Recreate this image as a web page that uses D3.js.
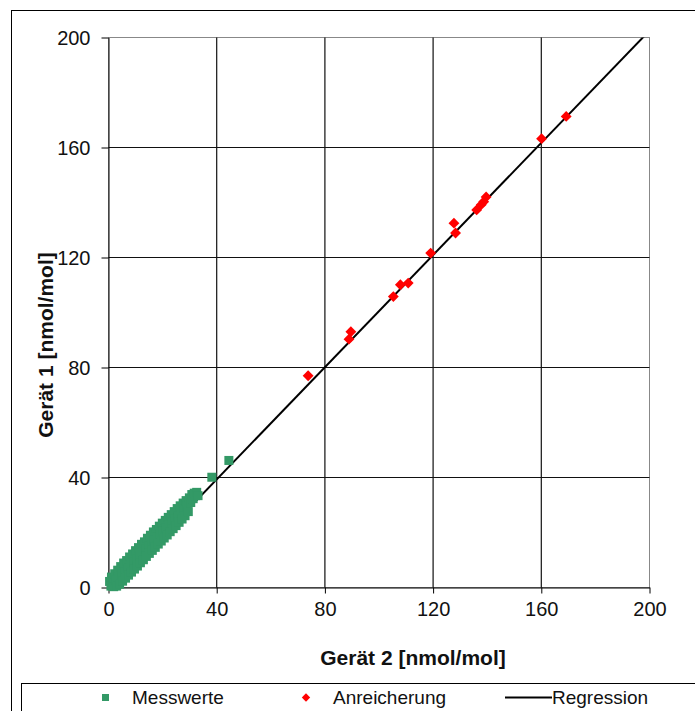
<!DOCTYPE html>
<html>
<head>
<meta charset="utf-8">
<script src="https://cdn.jsdelivr.net/npm/d3@7"></script>
<style>
  body { margin: 0; background: #fff; }
  svg { display: block; font-family: "Liberation Sans", Arial, sans-serif; }
</style>
</head>
<body>
<svg width="695" height="711"></svg>
<script>
// Messwerte: Gerät 2 (x) vs Gerät 1 (y), nmol/mol
var messwerte = [
  [0.4,2.2],[0.9,0.5],[1.1,3.8],[1.6,1.9],[1.9,0.3],[2.3,5.0],[2.7,2.6],[3.0,0.5],
  [3.4,6.3],[3.8,3.7],[4.1,1.2],[4.5,7.6],[4.9,4.9],[5.2,2.3],[5.6,8.9],[6.0,5.8],
  [6.3,3.4],[6.7,9.8],[7.1,7.0],[7.4,4.5],[7.8,11.1],[8.2,8.1],[8.5,5.6],[8.9,12.2],
  [9.3,9.3],[9.6,6.7],[10.0,13.4],[10.4,10.5],[10.7,7.8],[11.1,14.5],[11.5,11.6],[11.8,9.0],
  [12.2,15.7],[12.6,12.8],[12.9,10.1],[13.3,16.6],[13.7,13.9],[14.0,11.3],[14.4,17.9],[14.8,15.0],
  [15.1,12.4],[15.5,19.0],[15.9,16.1],[16.2,13.5],[16.6,20.2],[17.0,17.2],[17.3,14.6],[17.7,21.1],
  [18.1,18.4],[18.4,15.8],[18.8,22.3],[19.2,19.5],[19.5,16.9],[19.9,23.4],[20.3,20.6],[20.6,18.0],
  [21.0,24.4],[21.4,21.7],[21.7,19.1],[22.1,25.5],[22.5,22.8],[22.8,20.3],[23.2,26.5],[23.6,23.9],
  [23.9,21.4],[24.3,27.6],[24.7,25.0],[25.0,22.5],[25.4,28.7],[25.8,26.1],[26.1,23.7],[26.5,29.7],
  [26.9,27.2],[27.2,24.9],[27.6,30.7],[28.0,28.4],[28.3,26.1],[28.7,31.6],[29.1,29.6],[29.5,27.6],
  [29.9,32.6],[30.4,30.9],[30.8,33.8],[31.3,32.3],[31.7,34.3],[32.2,33.4],[32.6,34.6],[33.1,33.4],
  [38.2,40.1],[44.5,46.2]
];

// Anreicherung
var anreicherung = [
  [73.8,77.0],[88.9,90.3],[89.6,93.0],[105.3,105.8],[107.9,110.1],[110.8,110.7],
  [119.1,121.6],[127.7,132.5],[128.3,128.9],[136.1,137.3],[137.8,139.2],[138.7,140.3],
  [139.6,142.0],[160.1,163.2],[169.2,171.3]
];

// Regression line y = slope * x + intercept
var regSlope = 1.02, regIntercept = -1.5;
var regX = [0, 200];

var xTicks = [0, 40, 80, 120, 160, 200];
var yTicks = [0, 40, 80, 120, 160, 200];

var svg = d3.select("svg");

// outer chart frame and legend box (run off the picture edge)
svg.append("rect").attr("x", 11.5).attr("y", 10.5).attr("width", 700).attr("height", 720)
   .attr("fill", "none").attr("stroke", "#000");
svg.append("rect").attr("x", 21.5).attr("y", 683.5).attr("width", 700).attr("height", 60)
   .attr("fill", "#fff").attr("stroke", "#000");

var x = d3.scaleLinear().domain([0, 200]).range([108.5, 649.5]);
var y = d3.scaleLinear().domain([0, 200]).range([587.5, 37.5]);

// plot area border (grey top/right)
svg.append("rect")
   .attr("x", x(0)).attr("y", y(200))
   .attr("width", x(200) - x(0)).attr("height", y(0) - y(200))
   .attr("fill", "none").attr("stroke", "#888");

// gridlines
var grid = svg.append("g");
grid.selectAll(".vg").data(xTicks.slice(1, -1)).enter().append("line")
    .attr("x1", d => x(d)).attr("x2", d => x(d))
    .attr("y1", y(0)).attr("y2", y(200))
    .attr("stroke", "#111").attr("stroke-width", 1.2);
grid.selectAll(".hg").data(yTicks.slice(1, -1)).enter().append("line")
    .attr("x1", x(0)).attr("x2", x(200))
    .attr("y1", d => y(d)).attr("y2", d => y(d))
    .attr("stroke", "#111").attr("stroke-width", 1.2);

// axes
var xAxis = svg.append("g")
   .attr("transform", "translate(0," + y(0) + ")")
   .call(d3.axisBottom(x).tickValues(xTicks).tickSize(6).tickPadding(8).tickSizeOuter(0));
var yAxis = svg.append("g")
   .attr("transform", "translate(" + x(0) + ",0)")
   .call(d3.axisLeft(y).tickValues(yTicks).tickSize(7).tickPadding(11).tickSizeOuter(0));

[xAxis, yAxis].forEach(function(a) {
  a.select(".domain").attr("stroke", "#000");
  a.selectAll(".tick line").attr("stroke", "#000");
  a.selectAll(".tick text").attr("fill", "#111")
   .style("font-size", "20px").style("font-family", "'Liberation Sans', Arial, sans-serif");
});
yAxis.selectAll(".tick text").attr("dy", "0.36em");

// clip for regression line
svg.append("clipPath").attr("id", "plotclip").append("rect")
   .attr("x", x(0)).attr("y", y(200))
   .attr("width", x(200) - x(0)).attr("height", y(0) - y(200));

var line = d3.line()
   .x(function(d) { return x(d); })
   .y(function(d) { return y(regSlope * d + regIntercept); });

svg.append("path")
   .datum(regX)
   .attr("clip-path", "url(#plotclip)")
   .attr("d", line)
   .attr("fill", "none").attr("stroke", "#000").attr("stroke-width", 2);

// Messwerte: green squares
var sq = 9;
svg.append("g").selectAll("rect").data(messwerte).enter().append("rect")
   .attr("x", d => x(d[0]) - sq / 2).attr("y", d => y(d[1]) - sq / 2)
   .attr("width", sq).attr("height", sq)
   .attr("fill", "#339966");

// Anreicherung: red diamonds
var diamond = d3.symbol().type(d3.symbolDiamond2).size(75);
svg.append("g").selectAll("path").data(anreicherung).enter().append("path")
   .attr("transform", d => "translate(" + x(d[0]) + "," + y(d[1]) + ")")
   .attr("d", diamond)
   .attr("fill", "#ff0000");

// axis titles
svg.append("text")
   .attr("x", 413).attr("y", 665)
   .attr("text-anchor", "middle")
   .style("font-size", "21px").style("font-weight", "bold").attr("fill", "#111")
   .text("Gerät 2 [nmol/mol]");
svg.append("text")
   .attr("transform", "translate(53,345) rotate(-90)")
   .attr("text-anchor", "middle")
   .style("font-size", "21px").style("font-weight", "bold").attr("fill", "#111")
   .text("Gerät 1 [nmol/mol]");

// legend
var lg = svg.append("g").style("font-size", "19px").attr("fill", "#111");
lg.append("rect").attr("x", 102).attr("y", 694).attr("width", 7).attr("height", 7).attr("fill", "#339966");
lg.append("text").attr("x", 132).attr("y", 704).text("Messwerte");
lg.append("path").attr("transform", "translate(306,697.5)")
  .attr("d", d3.symbol().type(d3.symbolDiamond2).size(45)).attr("fill", "#ff0000");
lg.append("text").attr("x", 333).attr("y", 704).text("Anreicherung");
lg.append("line").attr("x1", 505).attr("x2", 552).attr("y1", 697.5).attr("y2", 697.5)
  .attr("stroke", "#000").attr("stroke-width", 2);
lg.append("text").attr("x", 552).attr("y", 704).text("Regression");
</script>
</body>
</html>
